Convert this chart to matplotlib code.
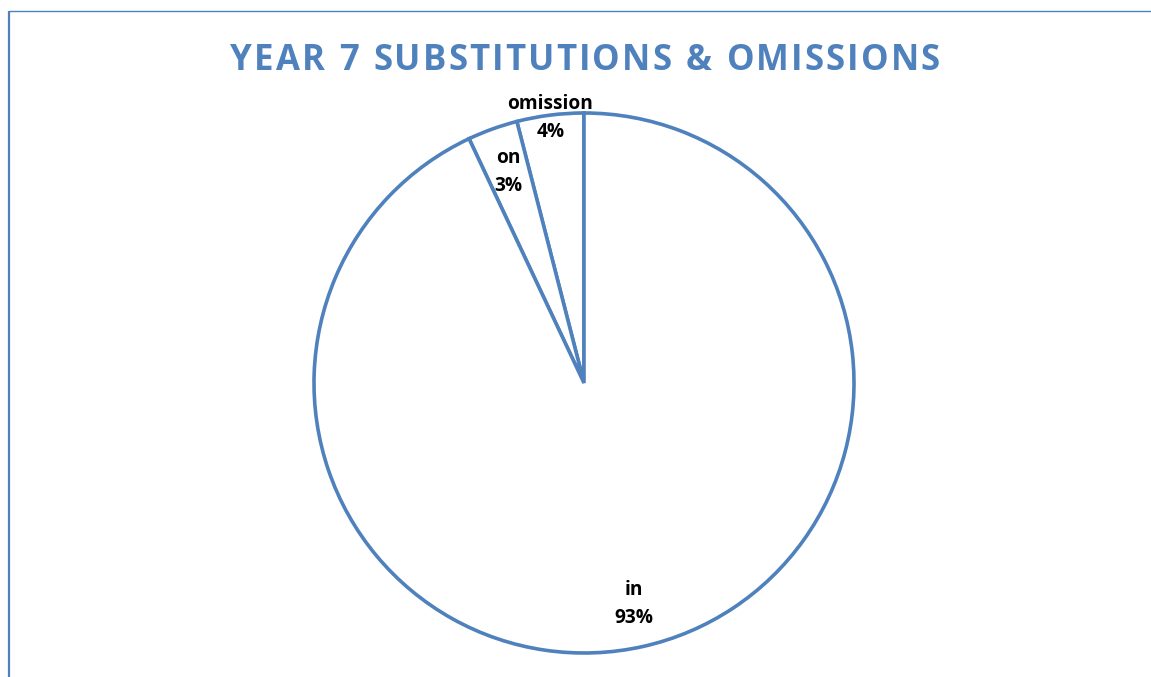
import numpy as np
import matplotlib
matplotlib.use("Agg")
import matplotlib.pyplot as plt

labels = ["omission", "on", "in"]
values = [4, 3, 93]
title = "YEAR 7 SUBSTITUTIONS & OMISSIONS"

BLUE = "#4F81BD"
W, H = 1151, 677
fig = plt.figure(figsize=(W / 100, H / 100), dpi=100)
ax = fig.add_axes([0, 0, 1, 1])

cx, cy, R = 584, H - 383, 270
wedges, _ = ax.pie(values, startangle=90, counterclock=True, center=(cx, cy), radius=R,
                   colors=["white"] * 3,
                   wedgeprops=dict(edgecolor=BLUE, linewidth=2.6, joinstyle="miter"))
ax.set_xlim(0, W)
ax.set_ylim(0, H)
ax.set_aspect("auto")
ax.axis("off")

dists = [0.99, 0.83, 0.84]
for w, lab, v, d in zip(wedges, labels, values, dists):
    mid = np.deg2rad((w.theta1 + w.theta2) / 2)
    x = cx + d * R * np.cos(mid)
    y = cy + d * R * np.sin(mid)
    ax.text(x, y, f"{lab}\n{v}%", ha="center", va="center", fontsize=13.8,
            fontweight="bold", family="Open Sans", linespacing=1.55, color="black")

# title with letter spacing
renderer = fig.canvas.get_renderer()
tracking = 2.1
tfs = 25
widths = []
for ch in title:
    t = fig.text(0, 0, ch if ch != " " else "n", fontsize=tfs, fontweight="bold", family="Open Sans")
    wpx = t.get_window_extent(renderer).width
    if ch == " ":
        wpx *= 0.45
    widths.append(wpx)
    t.remove()
total = sum(widths) + tracking * (len(title) - 1)
x0 = 585 - total / 2
for ch, wpx in zip(title, widths):
    if ch != " ":
        fig.text(x0 / W, 1 - 70 / H, ch, ha="left", va="baseline", fontsize=tfs,
                 fontweight="bold", family="Open Sans", color=BLUE)
    x0 += wpx + tracking

# frame lines
ax.plot([9, 9], [0, H - 11], color=BLUE, lw=1.6, solid_capstyle="butt")
ax.plot([9, W], [H - 11, H - 11], color=BLUE, lw=1.0, solid_capstyle="butt")
ax.text(925, H + 6, "y", ha="center", va="baseline", fontsize=16, family="Liberation Serif",
        color="black", clip_on=False)

fig.savefig("out.png", dpi=100)
